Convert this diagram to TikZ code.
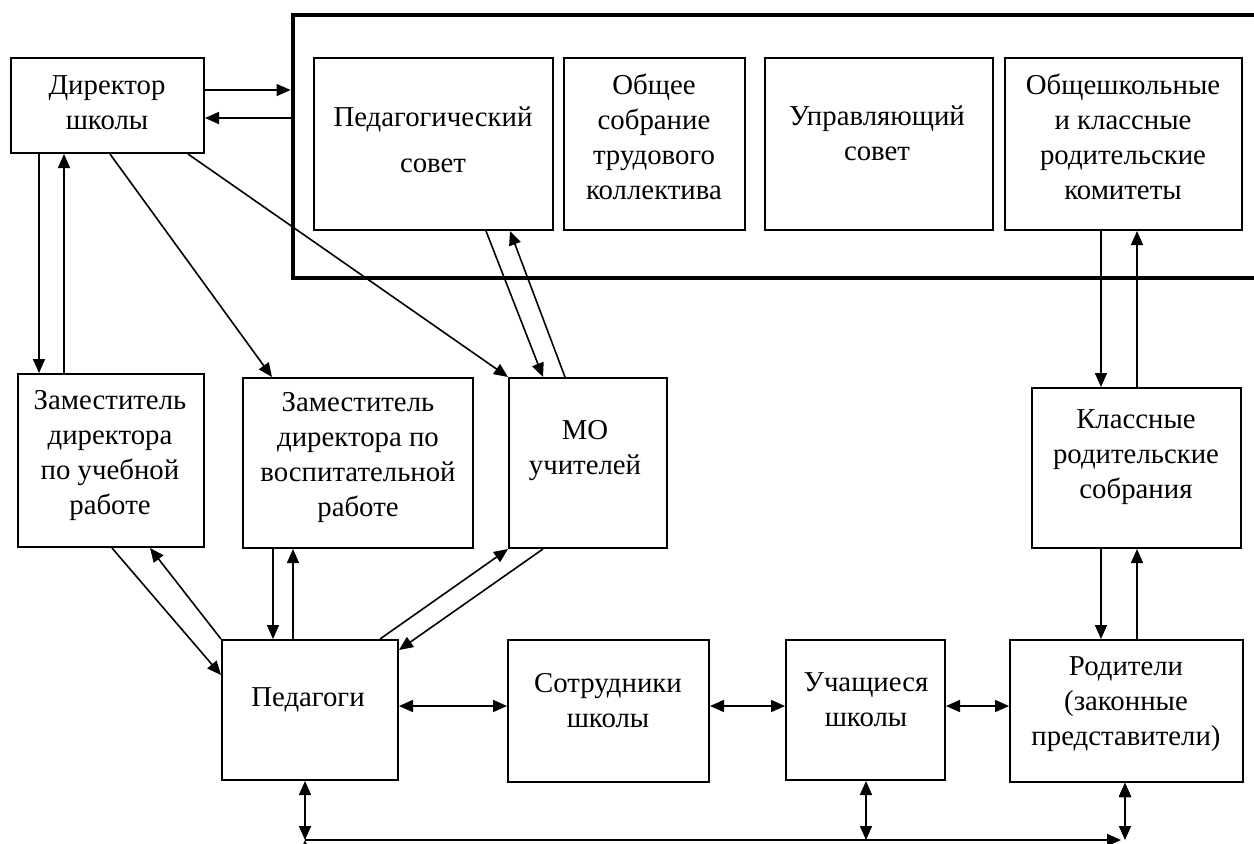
\documentclass[tikz,border=0pt]{standalone}
\usepackage{fontspec}
\setmainfont{Liberation Serif}
\usepackage{tikz}
\usetikzlibrary{arrows.meta}

\tikzset{
  blk/.style={draw,line width=1pt,inner sep=0pt},
  lbl/.style={align=center,inner sep=0pt,font=\fontsize{14.4}{17.5}\selectfont},
  con/.style={line width=0.8pt,-{Triangle[length=7pt,width=6pt]}},
  dcon/.style={line width=0.8pt,{Triangle[length=7pt,width=6pt]}-{Triangle[length=7pt,width=6pt]}}
}

\begin{document}
\begin{tikzpicture}[x=0.5pt,y=-0.5pt]
    \useasboundingbox (0,0) rectangle (1254,843);
    % boxes
    \draw
    (796.5,146.5) node[blk,line width=2.4pt,minimum width=503.5pt,minimum height=131.5pt] (sovety) {}
    (107.5,105.5) node[blk,minimum width=96.5pt,minimum height=47.5pt] (dir) {}
    (433.5,144) node[blk,minimum width=119.5pt,minimum height=86pt] (pedsov) {}
    (654.5,144) node[blk,minimum width=90.5pt,minimum height=86pt] (sobr) {}
    (879,144) node[blk,minimum width=114pt,minimum height=86pt] (upr) {}
    (1123.5,144) node[blk,minimum width=118.5pt,minimum height=86pt] (kom) {}
    (111,460.5) node[blk,minimum width=93pt,minimum height=86.5pt] (zamU) {}
    (358,463) node[blk,minimum width=115pt,minimum height=85pt] (zamV) {}
    (588,463) node[blk,minimum width=79pt,minimum height=85pt] (mo) {}
    (1136.5,468) node[blk,minimum width=104.5pt,minimum height=80pt] (kls) {}
    (310,710) node[blk,minimum width=88pt,minimum height=70pt] (ped) {}
    (608.5,711) node[blk,minimum width=100.5pt,minimum height=71pt] (sotr) {}
    (865.5,710) node[blk,minimum width=79.5pt,minimum height=70pt] (uch) {}
    (1126.5,711) node[blk,minimum width=116.5pt,minimum height=71pt] (rod) {};
    % texts
    \draw
    (107,102.5) node[lbl] (dirT) {Директор\\школы}
    (433,140) node[lbl] (pedsovT) {Педагогический\\[5.5pt]совет}
    (654,136.5) node[lbl] (sobrT) {Общее\\собрание\\трудового\\коллектива}
    (877,133.5) node[lbl] (uprT) {Управляющий\\совет}
    (1123,136.5) node[lbl] (komT) {Общешкольные\\и классные\\родительские\\комитеты}
    (110,456) node[lbl] (zamUT) {Заместитель\\директора\\по учебной\\работе}
    (358,457.5) node[lbl] (zamVT) {Заместитель\\директора по\\воспитательной\\работе}
    (585,451) node[lbl] (moT) {МО\\учителей}
    (1136,457) node[lbl] (klsT) {Классные\\родительские\\собрания}
    (308,700) node[lbl] (pedT) {Педагоги}
    (608,700.5) node[lbl] (sotrT) {Сотрудники\\школы}
    (866,700) node[lbl] (uchT) {Учащиеся\\школы}
    (1126,704) node[lbl] (rodT) {Родители\\(законные\\представители)};
    % bus
    \coordinate (busP) at (305,840);
    \coordinate (busU) at (866,840);
    \coordinate (busR) at (1125,840);
    % connectors
    \draw[con]
    (dir.east |- 0,90) edge (sovety.west |- 0,90)
    (sovety.west |- 0,118) edge (dir.east |- 0,118)
    (39,0 |- dir.south) edge (39,0 |- zamU.north)
    (64,0 |- zamU.north) edge (64,0 |- dir.south)
    (110,0 |- dir.south) edge (272,0 |- zamV.north)
    (188,0 |- dir.south) edge (mo.north west)
    (486,0 |- pedsov.south) edge (543,0 |- mo.north)
    (565,0 |- mo.north) edge (510,0 |- pedsov.south)
    (112,0 |- zamU.south) edge (ped.west |- 0,675)
    (ped.north west) edge (150,0 |- zamU.south)
    (273,0 |- zamV.south) edge (273,0 |- ped.north)
    (293,0 |- ped.north) edge (293,0 |- zamV.south)
    (380,0 |- ped.north) edge (mo.south west)
    (543,0 |- mo.south) edge (ped.east |- 0,650)
    (1101,0 |- kom.south) edge (1101,0 |- kls.north)
    (1137,0 |- kls.north) edge (1137,0 |- kom.south)
    (1101,0 |- kls.south) edge (1101,0 |- rod.north)
    (1137,0 |- rod.north) edge (1137,0 |- kls.south)
    (busP) edge ([xshift=-2pt]busR);
    \draw[dcon]
    (ped.east |- 0,706) edge (sotr.west |- 0,706)
    (sotr.east |- 0,706) edge (uch.west |- 0,706)
    (uch.east |- 0,706) edge (rod.west |- 0,706)
    (305,0 |- ped.south) edge (busP)
    (866,0 |- uch.south) edge (busU)
    (1125,0 |- rod.south) edge (busR);
  \end{tikzpicture}
\end{document}
